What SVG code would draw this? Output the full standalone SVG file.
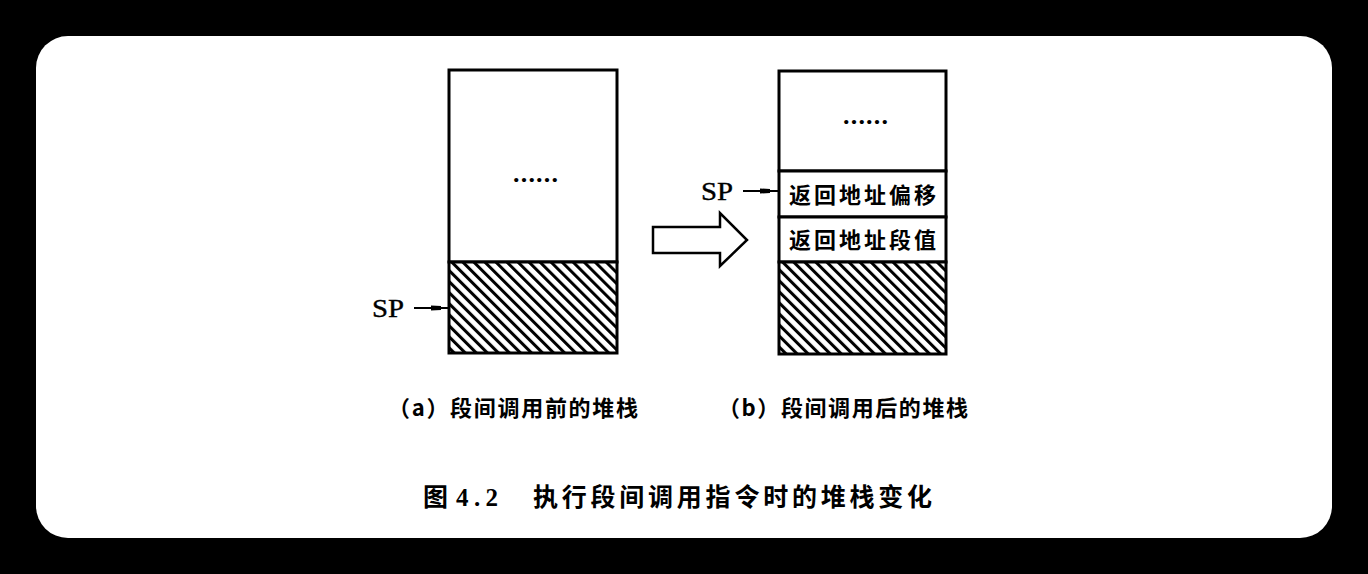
<svg xmlns="http://www.w3.org/2000/svg" width="1368" height="574" viewBox="0 0 1368 574">
<style>
.box{fill:#fff;stroke:#000;stroke-width:3}
.hatch{fill:url(#hatch);stroke:#000;stroke-width:3}
.cjk{font-family:"Noto Sans CJK SC","Noto Sans CJK JP",sans-serif;font-weight:bold;fill:#000}
.sp{font-family:"Liberation Serif",serif;fill:#000;font-size:26px;stroke:#000;stroke-width:0.4}
.dots{font-family:"Liberation Serif",serif;font-weight:bold;fill:#000;font-size:26px}
.conn{stroke:#000;stroke-width:2;fill:none}
</style>
<defs>
<pattern id="hatch" patternUnits="userSpaceOnUse" width="7.8" height="7.8" patternTransform="rotate(-45)">
<rect width="7.8" height="7.8" fill="#fff"/>
<rect x="0" y="0" width="3" height="7.8" fill="#000"/>
</pattern>
<marker id="blob" viewBox="0 0 10 6" refX="5" refY="3" markerWidth="10" markerHeight="6" markerUnits="userSpaceOnUse" orient="auto">
<path d="M0,0.5 L10,1 L10,5 L0,5.5 Z" fill="#000"/>
</marker>
</defs>
<rect x="0" y="0" width="1368" height="574" fill="#000"/>
<rect x="36" y="36" width="1296" height="502" rx="32" fill="#fff"/>

<g id="stack-a">
<rect class="box" x="449" y="70" width="168" height="192"/>
<rect class="hatch" x="449" y="262" width="168" height="91"/>
<text class="dots" x="513" y="182" textLength="45" lengthAdjust="spacing">......</text>
</g>

<g id="stack-b">
<rect class="box" x="779" y="71" width="167" height="100"/>
<text class="dots" x="843" y="124" textLength="45" lengthAdjust="spacing">......</text>
<rect class="box" x="779" y="171" width="167" height="46"/>
<text class="cjk" x="862.5" y="203" font-size="22" text-anchor="middle" textLength="147" lengthAdjust="spacing">返回地址偏移</text>
<rect class="box" x="779" y="217" width="167" height="45"/>
<text class="cjk" x="862.5" y="248" font-size="22" text-anchor="middle" textLength="147" lengthAdjust="spacing">返回地址段值</text>
<rect class="hatch" x="779" y="262" width="167" height="92"/>
</g>

<g id="sp-a">
<text class="sp" x="372" y="317" textLength="32" lengthAdjust="spacingAndGlyphs">SP</text>
</g>
<g id="sp-b">
<text class="sp" x="701" y="200" textLength="32" lengthAdjust="spacingAndGlyphs">SP</text>
</g>

<g id="transition-arrow">
<path d="M653,227 L720,227 L720,213 L747,240 L720,266 L720,253 L653,253 Z" fill="#fff" stroke="#000" stroke-width="2.5" stroke-linejoin="miter"/>
</g>

<g id="connectors">
<path class="conn" d="M414,308 L436,308 L449,308" marker-mid="url(#blob)"/>
<path class="conn" d="M743,191 L765,191 L779,191" marker-mid="url(#blob)"/>
</g>

<g id="caption-a">
<text class="cjk" x="388" y="416" font-size="22" textLength="250" lengthAdjust="spacing">（a）段间调用前的堆栈</text>
</g>
<g id="caption-b">
<text class="cjk" x="718" y="416" font-size="22" textLength="250" lengthAdjust="spacing">（b）段间调用后的堆栈</text>
</g>

<g id="title">
<text class="cjk" x="423" y="506" font-size="25" font-weight="normal">图</text>
<text x="456" y="506" font-size="25" font-family="Liberation Serif, serif" font-weight="bold" fill="#000" textLength="42" lengthAdjust="spacing">4.2</text>
<text class="cjk" x="533" y="506" font-size="25" textLength="399" lengthAdjust="spacing">执行段间调用指令时的堆栈变化</text>
</g>
</svg>
